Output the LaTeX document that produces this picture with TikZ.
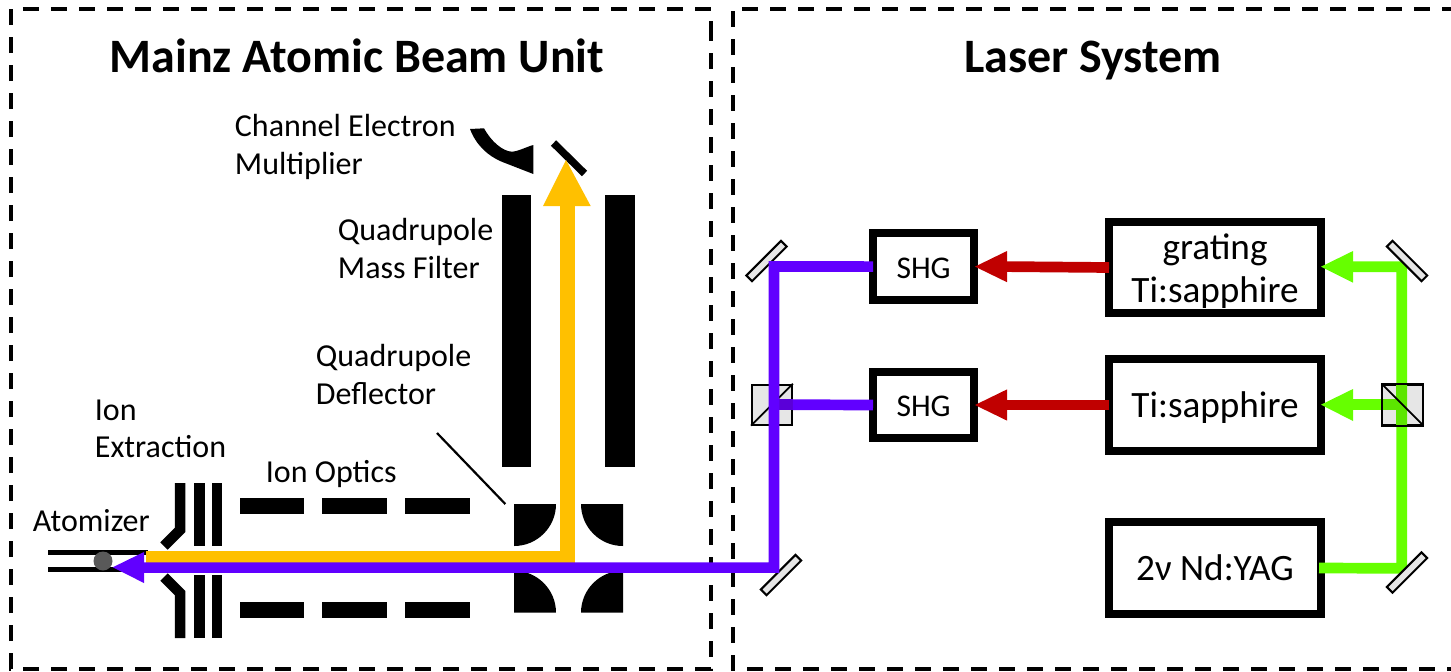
\documentclass[tikz,border=0pt]{standalone}
\usepackage{fontspec}
\usetikzlibrary{calc}
\setmainfont{Carlito}
\definecolor{beamv}{HTML}{6100FF}
\definecolor{beamvd}{HTML}{5A00D8}
\definecolor{beamy}{HTML}{FFC000}
\definecolor{beamg}{HTML}{66FF00}
\definecolor{beamgd}{HTML}{5CE600}
\definecolor{beamr}{HTML}{C00000}
\definecolor{optic}{HTML}{E6E6E6}
\tikzset{
  px/.style={x=0.5pt,y=-0.5pt},
  frame/.style={draw=black,line width=2.25pt,dash pattern=on 8pt off 6pt},
  elec/.style={draw=black,line width=5.25pt},
  tube/.style={draw=black,line width=2.6pt},
  beam/.style={line width=5.35pt},
  mirrorbox/.style={draw=black,line width=1pt,fill=optic,rectangle,minimum width=24.5pt,minimum height=4pt,inner sep=0pt},
  cubebox/.style={draw=black,line width=0.9pt,fill=optic,rectangle,minimum size=20pt,inner sep=0pt},
  unit/.style={draw=black,line width=4pt,rectangle,inner sep=0pt,outer sep=0pt,align=center,font=\fontsize{18.6pt}{21.5pt}\selectfont},
  shgunit/.style={unit,font=\fontsize{15.8pt}{18pt}\selectfont},
  title/.style={anchor=base,inner sep=0pt,font=\bfseries\fontsize{24pt}{28pt}\selectfont},
  lab/.style={anchor=base west,inner sep=0pt,font=\fontsize{16pt}{19pt}\selectfont},
}
\begin{document}
\begin{tikzpicture}[px]
\useasboundingbox (0,0) rectangle (1451,671);
\fill[white] (0,0) rectangle (1451,671);
% frames
\draw[frame] (711,25) -- (711,669) -- (11,669) -- (11,9) -- (711,9) -- (711,25);
\draw[frame] (733,11) -- (733,669) -- (1460,669);
\draw[frame] (742,9) -- (1460,9);
% titles
\node[title] (t1) at (357,72) {Mainz Atomic Beam Unit};
\node[title] (t2) at (1093,72) {Laser System};
% labels
\node[lab] (l1) at (234.5,136) {Channel Electron};
\node[lab] (l2) at (234.5,174) {Multiplier};
\node[lab] (l3) at (337.5,240) {Quadrupole};
\node[lab] (l4) at (337.5,278) {Mass Filter};
\node[lab] (l5) at (315.5,366) {Quadrupole};
\node[lab] (l6) at (315.5,404) {Deflector};
\node[lab] (l7) at (94.5,420) {Ion};
\node[lab] (l8) at (94.5,457) {Extraction};
\node[lab] (l9) at (265.5,482) {Ion Optics};
\node[lab] (l10) at (32.5,531) {Atomizer};
% atomizer
\draw[tube] (48,552.5) -- (148,552.5);
\draw[tube] (48,569.5) -- (125,569.5);
\fill[black!65] (103,561) circle (9.5);
% extraction electrodes
\draw[elec] (180,483) -- (180,530) -- (164,546);
\draw[elec] (180,638) -- (180,593) -- (164,577);
\fill (194,483) rectangle (205,546);
\fill (212,483) rectangle (222,546);
\fill (194,575) rectangle (205,638);
\fill (212,575) rectangle (222,638);
% ion optics
\foreach \a/\b in {240/304,322/387,405/470}{
  \fill (\a,498) rectangle (\b,514);
  \fill (\a,602) rectangle (\b,618);
}
% deflector
\fill (514,504) -- (556,504) arc[start angle=0,end angle=90,radius=42] -- cycle;
\fill (623,504) -- (581,504) arc[start angle=180,end angle=90,radius=42] -- cycle;
\fill (514,612.7) -- (556,612.7) arc[start angle=0,end angle=-90,radius=42] -- cycle;
\fill (623,612.7) -- (581,612.7) arc[start angle=180,end angle=270,radius=42] -- cycle;
\draw[line width=1.1pt] (437,433) -- (505.3,504);
% quadrupole filter
\fill (501.7,194.5) rectangle (531.3,467);
\fill (605,194.5) rectangle (635,467);
% channel electron multiplier
\fill (470,129) -- (484,128.3) .. controls (491,141) and (502,151) .. (511.7,151.7)
  .. controls (518,151.5) and (526,147) .. (533.3,145) -- (533.3,174) -- (501.7,161.7)
  .. controls (488,156) and (476,145) .. (470,129) -- cycle;
\draw[line width=3.75pt] (553.5,143) -- (584.5,173.5);
% optics below the violet beam
\node[mirrorbox,rotate=45] (m1) at (766.5,261) {};
\node[mirrorbox,rotate=45] (m2) at (781,575) {};
\node[cubebox] (c1) at (772,404.7) {};
\draw[line width=0.9pt] (c1.south west) -- (c1.north east);
\node[cubebox] (c2) at (1402.5,404.7) {};
% units
\node[shgunit,minimum width=50.6pt,minimum height=33.4pt] (s1) at (923.6,266.6) {\rule{0pt}{11.5pt}SHG};
\node[shgunit,minimum width=50.6pt,minimum height=33.4pt] (s2) at (923.6,405) {\rule{0pt}{11.5pt}SHG};
\node[unit,minimum width=106pt,minimum height=45.5pt] (g) at (1215,267.5) {\rule{0pt}{16pt}grating\\Ti:sapphire};
\node[unit,minimum width=106pt,minimum height=46pt] (t) at (1215,405) {\rule{0pt}{15pt}Ti:sapphire};
\node[unit,minimum width=106pt,minimum height=46pt] (y) at (1215,568) {2ν Nd:YAG};
% yellow beam
\coordinate (ys) at (146,558);
\coordinate (yc) at (567,558);
\coordinate (yt) at (567,206);
\draw[beamy,line width=7.5pt] (ys) -- (yc) -- (yt);
\fill[beamy] (566,160) -- (590.7,206) -- (543,206) -- cycle;
% violet beam
\coordinate (vtip) at (144,567.6);
\coordinate (vc) at (774,567.6);
\coordinate (vt) at (774,266.5);
\coordinate (vi) at (779,404.7);
\coordinate (ve) at (c1.east);
\draw[beamvd,beam] (vi) -- (ve);
\draw[beamv,beam] (ve) -- (s2.west);
\draw[beamv,beam,line join=miter] (vtip) -- (vc) -- (vt) -- (s1.west);
\fill[beamv] (112.7,567.3) -- (144,552) -- (144,583) -- cycle;
% red
\coordinate (rb1) at (1007,266.6);
\coordinate (rb2) at (1007,405);
\draw[beamr,beam] (g.west) -- (rb1);
\draw[beamr,beam] (t.west) -- (rb2);
\fill[beamr] (975,266.6) -- (1007,251) -- (1007,282.2) -- cycle;
\fill[beamr] (975,405) -- (1007,389.4) -- (1007,420.6) -- cycle;
% green
\coordinate (gc) at (1401.7,568.3);
\coordinate (gt) at (1401.7,266.7);
\coordinate (ga1) at (1353,266.7);
\coordinate (ga2) at (1353,404.7);
\draw[beamg,beam] ($(y.east)+(-2,0)$) -- (gc) -- (gt) -- (ga1);
\draw[beamg,beam] (c2.west) -- (ga2);
\fill[beamgd] (1396.35,384.5) rectangle (1407.05,425);
\fill[beamgd] (1382,399.4) rectangle (1396.35,410);
\draw[line width=0.9pt] (c2.south west) rectangle (c2.north east);
\draw[line width=0.9pt] (c2.north west) -- (c2.south east);
\fill[beamg] (1321,266.7) -- (1353,251) -- (1353,282.7) -- cycle;
\fill[beamg] (1321,404.7) -- (1353,389) -- (1353,421) -- cycle;
% mirrors above the green beam
\node[mirrorbox,rotate=-45] (m3) at (1407,261) {};
\node[mirrorbox,rotate=45] (m4) at (1407,572.5) {};
\end{tikzpicture}
\end{document}
